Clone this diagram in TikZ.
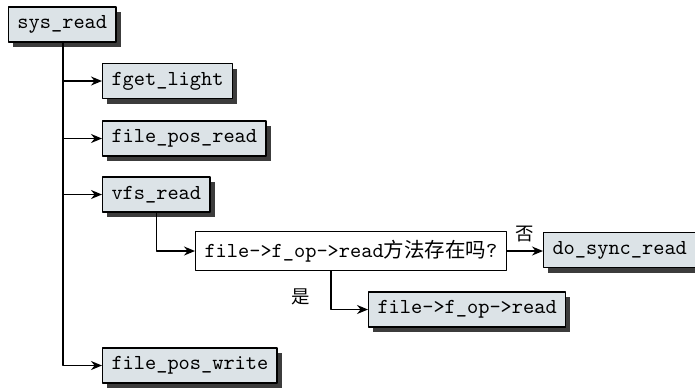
\documentclass[tikz,border=0pt]{standalone}
\usepackage{fontspec}
\newfontfamily\cjkfont[Scale=0.96]{Noto Sans CJK SC}
\usetikzlibrary{arrows.meta,shadows}
\definecolor{callfill}{HTML}{DCE3E7}
\definecolor{callshadow}{HTML}{3C3C3C}

\begin{document}
\begin{tikzpicture}[
  x=0.5pt,
  y=-0.5pt,
  line join=round,
  font=\fontsize{10.67}{12}\selectfont\ttfamily,
  call/.style={draw=black,line width=0.7pt,fill=callfill,anchor=west,
    inner xsep=4.4pt,minimum height=17.5pt,
    drop shadow={shadow xshift=2.3pt,shadow yshift=-2.5pt,fill=callshadow,opacity=1}},
  test/.style={draw=black,line width=0.7pt,fill=white,anchor=west,
    inner xsep=4.4pt,minimum height=19.5pt},
  link/.style={draw=black,line width=0.7pt,-{Stealth[length=5.5pt,width=4.5pt]}},
  branch/.style={font=\fontsize{9.6}{11}\selectfont\cjkfont}
]
  % Match the original artwork frame.
  \useasboundingbox (0,0) rectangle (695,388);

  % Top-level call and the functions it calls.
  \node[call] (sysread) at (8,24.5) {sys\_read};
  \node[call] (fget) at (102,81) {fget\_light};
  \node[call] (fposread) at (102,138.5) {file\_pos\_read};
  \node[call] (vfsread) at (102,194.5) {vfs\_read};
  \node[call] (fposwrite) at (102,365.5) {file\_pos\_write};

  % Decision inside vfs_read and its two outcomes.
  \node[test] (check) at (195,251) {file->f\_op->read{\cjkfont 方法存在吗}?};
  \node[call] (dosync) at (543,250) {do\_sync\_read};
  \node[call] (fopread) at (368,309.5) {file->f\_op->read};

  % Trunk line down from sys_read.
  \coordinate (trunk) at ([xshift=27.5pt]sysread.south west);
  \draw[link] (trunk) |- (fposwrite.west);
  \draw[link] (trunk |- fget.west) -- (fget.west);
  \draw[link] (trunk |- fposread.west) -- (fposread.west);
  \draw[link] (trunk |- vfsread.west) -- (vfsread.west);

  % vfs_read branches.
  \draw[link] (vfsread.south) |- (check.west);
  \draw[link] (check.east) -- (check.east -| dosync.west)
    node[branch,midway,above=1pt] (no) {否};
  \coordinate (yesdrop) at ([xshift=68pt]check.south west);
  \draw[link] (yesdrop) |- (fopread.west)
    node[branch,pos=0.34,left=7pt] (yes) {是};
\end{tikzpicture}
\end{document}
